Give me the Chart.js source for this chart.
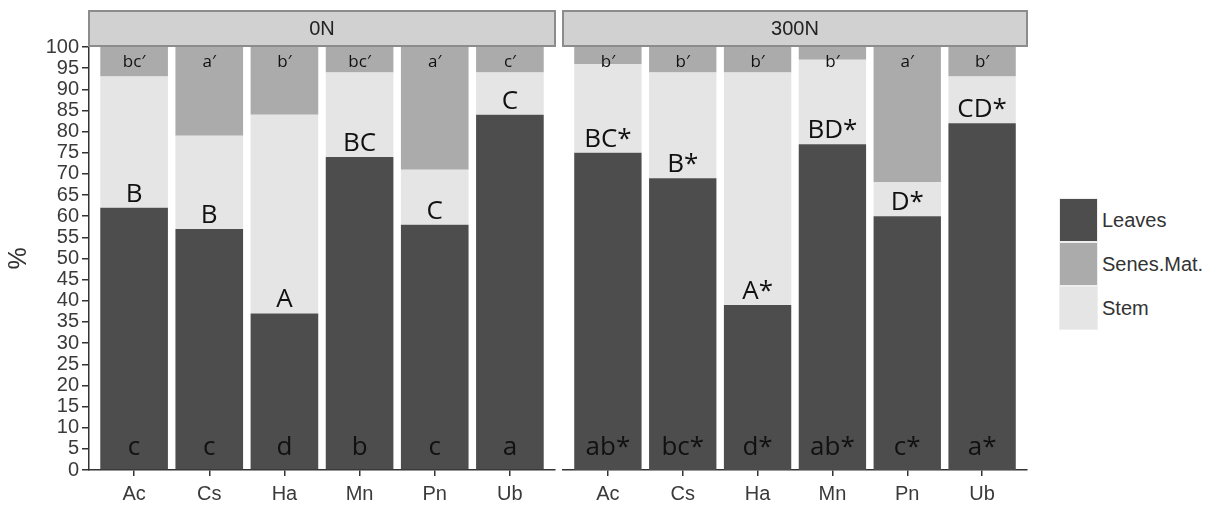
<!DOCTYPE html>
<html>
<head>
<meta charset="utf-8">
<script src="https://cdn.jsdelivr.net/npm/chart.js@4.4.1/dist/chart.umd.min.js"></script>
<style>
  body { margin: 0; background: #fff; width: 1222px; height: 509px; position: relative; overflow: hidden; font-family: "Liberation Sans", Arial, sans-serif; }
  canvas { position: absolute; top: 0; }
  #left { left: 0; }
  #right { left: 558px; }
  .legend { position: absolute; left: 1059px; top: 198px; }
  .key { display: flex; align-items: center; height: 44px; }
  .sw { width: 39px; height: 44px; box-sizing: border-box; border: 1px solid #eeeeee; }
  .lab { margin-left: 4px; font-size: 20px; color: #333; }
</style>
</head>
<body>
<canvas id="left" width="560" height="509"></canvas>
<canvas id="right" width="480" height="509"></canvas>
<div class="legend" id="legend"></div>

<script>
// data (percent of biomass)
const species = ['Ac', 'Cs', 'Ha', 'Mn', 'Pn', 'Ub'];
const yTicks = [0, 5, 10, 15, 20, 25, 30, 35, 40, 45, 50, 55, 60, 65, 70, 75, 80, 85, 90, 95, 100];

const leaves0 = [62, 57, 37, 74, 58, 84];
const stem0 = [31, 22, 47, 20, 13, 10];
const senes0 = [7, 21, 16, 6, 29, 6];

const leaves300 = [75, 69, 39, 77, 60, 82];
const stem300 = [21, 25, 55, 20, 8, 11];
const senes300 = [4, 6, 6, 3, 32, 7];

// significance letters
const upper0 = ['B', 'B', 'A', 'BC', 'C', 'C'];
const lower0 = ['c', 'c', 'd', 'b', 'c', 'a'];
const prime0 = ['bc′', 'a′', 'b′', 'bc′', 'a′', 'c′'];
const upper300 = ['BC*', 'B*', 'A*', 'BD*', 'D*', 'CD*'];
const lower300 = ['ab*', 'bc*', 'd*', 'ab*', 'c*', 'a*'];
const prime300 = ['b′', 'b′', 'b′', 'b′', 'a′', 'b′'];

const colors = { leaves: '#4d4d4d', senes: '#ababab', stem: '#e5e5e5' };
const legendLabels = ['Leaves', 'Senes.Mat.', 'Stem'];
const legendColors = [colors.leaves, colors.senes, colors.stem];

// strip on top + letters on the bars
function facetPlugin(title, upper, lower, prime) {
  return {
    id: 'facet',
    afterDatasetsDraw(chart) {
      const { ctx, chartArea, scales } = chart;
      const y = scales.y;
      const bars = chart.getDatasetMeta(0).data;
      ctx.save();
      ctx.fillStyle = '#111';
      ctx.textAlign = 'center';
      ctx.textBaseline = 'alphabetic';
      bars.forEach((bar, i) => {
        ctx.font = '26px "Open Sans"';
        ctx.fillText(upper[i], bar.x, bar.y - 6);
        ctx.fillText(lower[i], bar.x, y.getPixelForValue(0) - 15);
        ctx.font = '17px "Open Sans", "Noto Sans", "DejaVu Sans"';
        ctx.fillText(prime[i], bar.x, y.getPixelForValue(95.3));
      });

      const x0 = chartArea.left;
      const w = chartArea.right - chartArea.left;
      ctx.fillStyle = '#d1d1d1';
      ctx.strokeStyle = '#8c8c8c';
      ctx.lineWidth = 2;
      ctx.fillRect(x0, 11, w, 35);
      ctx.strokeRect(x0, 11, w, 35);
      ctx.fillStyle = '#222';
      ctx.font = '20px "Liberation Sans"';
      ctx.textBaseline = 'middle';
      ctx.fillText(title, x0 + w / 2, 29);
      ctx.restore();
    }
  };
}

function makeChart(id, title, leaves, stem, senes, upper, lower, prime, showY) {
  const pts = vals => vals.map((v, i) => ({ x: i, y: v }));
  return new Chart(document.getElementById(id), {
    type: 'bar',
    data: {
      datasets: [
        { label: 'Leaves', data: pts(leaves), backgroundColor: colors.leaves },
        { label: 'Stem', data: pts(stem), backgroundColor: colors.stem },
        { label: 'Senes.Mat.', data: pts(senes), backgroundColor: colors.senes },
      ],
    },
    options: {
      responsive: false,
      animation: false,
      layout: { padding: showY ? { top: 47, left: 0, right: 5, bottom: 0 } : { top: 47, left: 5, right: 11, bottom: 0 } },
      datasets: { bar: { barPercentage: 0.9, categoryPercentage: 1 } },
      plugins: { legend: { display: false }, tooltip: { enabled: false } },
      scales: {
        x: {
          type: 'linear',
          stacked: true,
          offset: false,
          min: -0.6,
          max: 5.6,
          afterBuildTicks: s => { s.ticks = species.map((_, i) => ({ value: i })); },
          afterFit: s => { s.height = 39; },
          grid: { offset: false, drawOnChartArea: false, tickLength: 6, color: '#333', lineWidth: 1.5 },
          border: { color: '#333', width: 1.5 },
          ticks: { callback: v => species[v], color: '#3a3a3a', font: { family: 'Liberation Sans', size: 20 }, padding: 6, maxRotation: 0 },
        },
        y: {
          stacked: true,
          min: 0,
          max: 100,
          display: showY,
          afterBuildTicks: s => { s.ticks = yTicks.map(v => ({ value: v })); },
          afterFit: s => { s.width = showY ? 89 : 0; },
          grid: { drawOnChartArea: false, tickLength: 7, color: '#333', lineWidth: 1.5 },
          border: { color: '#333', width: 1.5 },
          ticks: { autoSkip: false, color: '#3a3a3a', font: { family: 'Liberation Sans', size: 20, lineHeight: 1 }, padding: 3 },
          title: { display: true, text: '%', color: '#333', font: { family: 'Liberation Sans', size: 25 }, padding: { top: 4, bottom: 0 } },
        },
      },
    },
    plugins: [facetPlugin(title, upper, lower, prime)],
  });
}

makeChart('left', '0N', leaves0, stem0, senes0, upper0, lower0, prime0, true);
makeChart('right', '300N', leaves300, stem300, senes300, upper300, lower300, prime300, false);

// legend in ggplot order
const legend = document.getElementById('legend');
legendLabels.forEach((name, i) => {
  const row = document.createElement('div');
  row.className = 'key';
  row.innerHTML = '<div class="sw" style="background:' + legendColors[i] + '"></div><span class="lab">' + name + '</span>';
  legend.appendChild(row);
});
</script>
</body>
</html>
